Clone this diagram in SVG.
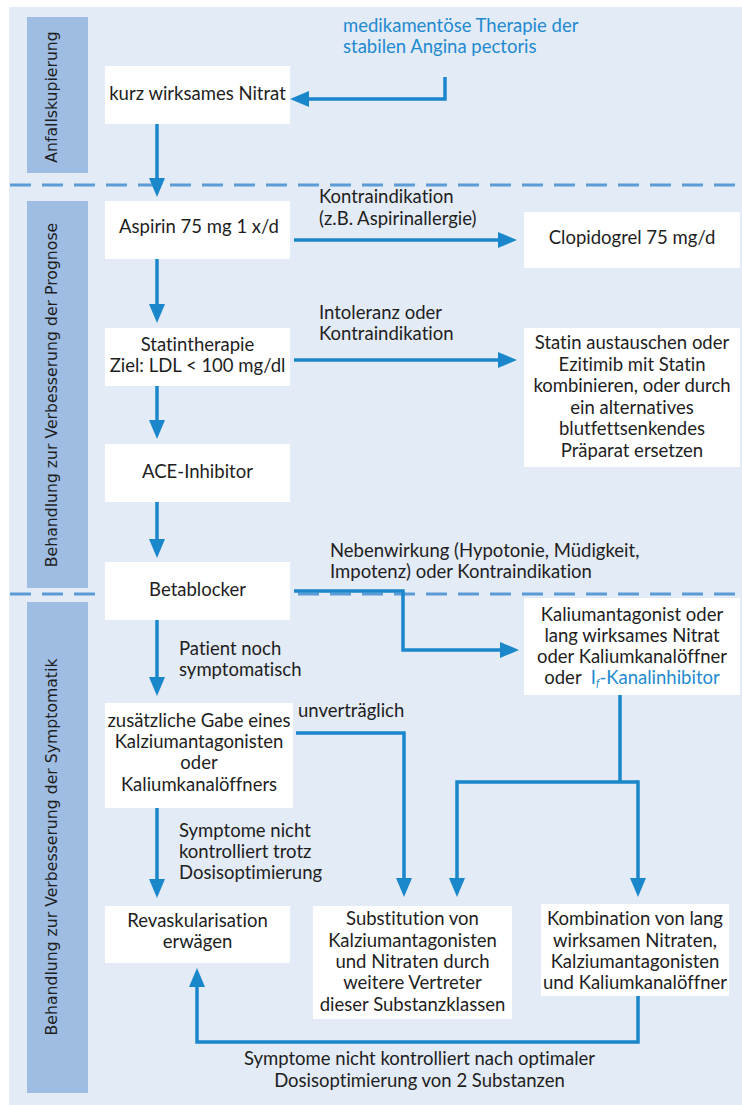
<svg xmlns="http://www.w3.org/2000/svg" width="742" height="1105" viewBox="0 0 742 1105">
<defs>
<style>
.bg{fill:#e3ebf6}
.side{fill:#9fbde3}
.box{fill:#ffffff}
.t{font-family:Lato,"Open Sans",sans-serif;font-size:18.5px;fill:#1e1e1e;font-variant-ligatures:none}
.c{text-anchor:middle}
.st{font-family:"DejaVu Sans",Verdana,sans-serif;font-size:15.7px;fill:#1e1e1e;text-anchor:middle}
.blue{fill:#1f8ad0}
.dash{stroke:#5b9bd8;stroke-width:3;stroke-dasharray:21 11;fill:none}
.ln{stroke:#1b87cb;stroke-width:3.5;fill:none}
.ar{marker-end:url(#ah)}
</style>
<marker id="ah" markerUnits="userSpaceOnUse" markerWidth="20" markerHeight="17" refX="11" refY="8" orient="auto" viewBox="0 0 20 17">
<path d="M0,0 L19,8 L0,16 z" fill="#1b87cb"/>
</marker>
</defs>

<rect class="bg" x="9" y="7" width="733" height="1098"/>

<g id="separators">
<line class="dash" x1="10" y1="185" x2="742" y2="185"/>
<line class="dash" x1="10" y1="594" x2="742" y2="594"/>
</g>

<g id="sidebars">
<rect class="side" x="27" y="17" width="61" height="156"/>
<text class="st" transform="translate(56.5,97) rotate(-90)">Anfallskupierung</text>
<rect class="side" x="27" y="201" width="61" height="387"/>
<text class="st" transform="translate(56.5,395) rotate(-90)">Behandlung zur Verbesserung der Prognose</text>
<rect class="side" x="27" y="602" width="61" height="491"/>
<text class="st" transform="translate(56.5,847) rotate(-90)">Behandlung zur Verbesserung der Symptomatik</text>
</g>

<g id="n-title">
<text class="t blue" x="343" y="32">medikamentöse Therapie der</text>
<text class="t blue" x="343" y="53">stabilen Angina pectoris</text>
</g>

<g id="n-nitrat">
<rect class="box" x="105" y="66" width="185" height="58"/>
<text class="t c" x="197.5" y="100">kurz wirksames Nitrat</text>
</g>

<g id="n-aspirin">
<rect class="box" x="105" y="201" width="185" height="58"/>
<text class="t c" x="199" y="233">Aspirin 75 mg 1 x/d</text>
</g>

<g id="n-clopidogrel">
<rect class="box" x="524" y="212" width="216" height="56"/>
<text class="t c" x="632" y="244">Clopidogrel 75 mg/d</text>
</g>

<g id="n-statin">
<rect class="box" x="105" y="328" width="185" height="58"/>
<text class="t c" x="197.5" y="351">Statintherapie</text>
<text class="t c" x="197.5" y="372">Ziel: LDL &lt; 100 mg/dl</text>
</g>

<g id="n-statin-alt">
<rect class="box" x="524" y="328" width="216" height="139"/>
<text class="t c" x="632" y="349">Statin austauschen oder</text>
<text class="t c" x="632" y="371">Ezitimib mit Statin</text>
<text class="t c" x="632" y="392">kombinieren, oder durch</text>
<text class="t c" x="632" y="414">ein alternatives</text>
<text class="t c" x="632" y="435">blutfettsenkendes</text>
<text class="t c" x="632" y="457">Präparat ersetzen</text>
</g>

<g id="n-ace">
<rect class="box" x="105" y="444" width="185" height="58"/>
<text class="t c" x="197.5" y="478">ACE-Inhibitor</text>
</g>

<g id="n-beta">
<rect class="box" x="105" y="562" width="185" height="58"/>
<text class="t c" x="197.5" y="596">Betablocker</text>
</g>

<g id="n-kalium">
<rect class="box" x="524" y="598" width="216" height="97"/>
<text class="t c" x="632" y="621">Kaliumantagonist oder</text>
<text class="t c" x="632" y="642">lang wirksames Nitrat</text>
<text class="t c" x="632" y="663">oder Kaliumkanalöffner</text>
<text class="t c" x="632" y="684" xml:space="preserve">oder  <tspan class="blue">I<tspan font-size="11" font-style="italic" dy="3">f</tspan><tspan dy="-3">-Kanalinhibitor</tspan></tspan></text>
</g>

<g id="n-zusaetzlich">
<rect class="box" x="105" y="703" width="188" height="105"/>
<text class="t c" x="199" y="727">zusätzliche Gabe eines</text>
<text class="t c" x="199" y="748">Kalziumantagonisten</text>
<text class="t c" x="199" y="769">oder</text>
<text class="t c" x="199" y="791">Kaliumkanalöffners</text>
</g>

<g id="n-revask">
<rect class="box" x="105" y="906" width="185" height="57"/>
<text class="t c" x="197.5" y="927">Revaskularisation</text>
<text class="t c" x="197.5" y="948">erwägen</text>
</g>

<g id="n-subst">
<rect class="box" x="313" y="906" width="199" height="113"/>
<text class="t c" x="412.5" y="925">Substitution von</text>
<text class="t c" x="412.5" y="947">Kalziumantagonisten</text>
<text class="t c" x="412.5" y="968">und Nitraten durch</text>
<text class="t c" x="412.5" y="989">weitere Vertreter</text>
<text class="t c" x="412.5" y="1011">dieser Substanzklassen</text>
</g>

<g id="n-kombination">
<rect class="box" x="541" y="904" width="188" height="92"/>
<text class="t c" x="635" y="925">Kombination von lang</text>
<text class="t c" x="635" y="947">wirksamen Nitraten,</text>
<text class="t c" x="635" y="968">Kalziumantagonisten</text>
<text class="t c" x="635" y="989">und Kaliumkanalöffner</text>
</g>

<g id="connectors">
<path class="ln ar" d="M445,77 V99 H298"/>
<path class="ln ar" d="M157,124 V189"/>
<path class="ln ar" d="M157,259 V315"/>
<path class="ln ar" d="M157,386 V431"/>
<path class="ln ar" d="M157,502 V550"/>
<path class="ln ar" d="M157,620 V688"/>
<path class="ln ar" d="M157,808 V890"/>
<path class="ln ar" d="M294,240 H509"/>
<path class="ln ar" d="M294,360 H509"/>
<path class="ln ar" d="M294,591 H403 V650 H511"/>
<path class="ln ar" d="M296,733 H404 V889"/>
<path class="ln" d="M620,695 V782"/>
<path class="ln ar" d="M638,782 H457 V889"/>
<path class="ln ar" d="M638,780.25 V889"/>
<path class="ln ar" d="M638,996 V1042 H197 V976"/>

<text class="t" x="319" y="203">Kontraindikation</text>
<text class="t" x="319" y="225">(z.B. Aspirinallergie)</text>
<text class="t" x="319" y="319">Intoleranz oder</text>
<text class="t" x="319" y="340">Kontraindikation</text>
<text class="t" x="330" y="557">Nebenwirkung (Hypotonie, Müdigkeit,</text>
<text class="t" x="330" y="578">Impotenz) oder Kontraindikation</text>
<text class="t" x="179" y="655">Patient noch</text>
<text class="t" x="179" y="676">symptomatisch</text>
<text class="t" x="298" y="717">unverträglich</text>
<text class="t" x="179" y="837">Symptome nicht</text>
<text class="t" x="179" y="858">kontrolliert trotz</text>
<text class="t" x="179" y="879">Dosisoptimierung</text>
<text class="t c" x="419.5" y="1065">Symptome nicht kontrolliert nach optimaler</text>
<text class="t c" x="419.5" y="1087">Dosisoptimierung von 2 Substanzen</text>
</g>
</svg>
